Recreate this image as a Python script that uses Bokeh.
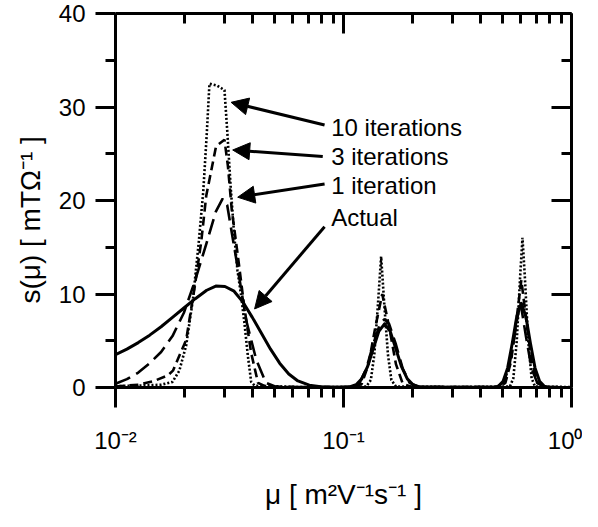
from bokeh.plotting import figure
from bokeh.models import (Range1d, FixedTicker, LogAxis, LinearAxis, Arrow, Title,
                          NormalHead, ColumnDataSource, CustomJSTickFormatter)
from bokeh.core.properties import value
from bokeh.embed import file_html
from bokeh.resources import INLINE

FONT = "Liberation Sans"

# ---------------- data (x stored as log10(mu)) ----------------
actual_log_mu = [-2.00, -1.95, -1.90, -1.85, -1.80, -1.75, -1.70, -1.65, -1.60, -1.56,
                 -1.52, -1.48, -1.44, -1.40, -1.36, -1.32, -1.28, -1.24, -1.20, -1.15,
                 -1.10, -1.05, -1.00, -0.97, -0.945, -0.92, -0.895, -0.87, -0.845, -0.82,
                 -0.795, -0.77, -0.745, -0.72, -0.695, -0.67, -0.55, -0.40, -0.34, -0.32,
                 -0.30, -0.28, -0.26, -0.24, -0.22, -0.20, -0.18, -0.16, -0.14, -0.12,
                 -0.10, 0.00]
actual_s = [3.5, 4.1, 4.8, 5.6, 6.5, 7.5, 8.5, 9.5, 10.4, 10.85,
            10.8, 10.3, 9.1, 7.5, 5.8, 4.1, 2.6, 1.45, 0.7, 0.25,
            0.08, 0.03, 0.03, 0.08, 0.3, 0.92, 2.2, 4.1, 6.0, 6.8,
            6.0, 4.1, 2.2, 0.92, 0.3, 0.08, 0.02, 0.02, 0.02, 0.15,
            0.66, 2.1, 4.7, 7.6, 9.0, 7.6, 4.7, 2.1, 0.66, 0.15,
            0.03, 0.0]

it10_log_mu = [-2.00, -1.90, -1.80, -1.75, -1.72, -1.69, -1.66, -1.635, -1.615, -1.60,
               -1.588, -1.555, -1.522, -1.51, -1.495, -1.48, -1.465, -1.45, -1.435, -1.42,
               -1.405, -1.39, -1.20, -1.00, -0.90, -0.88, -0.865, -0.85, -0.835, -0.82,
               -0.805, -0.79, -0.77, -0.50, -0.27, -0.255, -0.24, -0.225, -0.215, -0.205,
               -0.19, -0.175, -0.16, 0.00]
it10_s = [0.15, 0.2, 0.3, 0.6, 1.8, 4.5, 9.5, 15.5, 21.0, 27.0,
          32.5, 32.3, 31.8, 27.5, 21.5, 16.5, 12.5, 10.0, 7.0, 3.5,
          0.6, 0.2, 0.05, 0.05, 0.1, 0.8, 3.5, 8.5, 14.0, 8.5,
          3.5, 0.8, 0.1, 0.05, 0.1, 1.0, 5.0, 12.0, 16.0, 12.0,
          5.0, 1.0, 0.1, 0.05]

it3_log_mu = [-2.00, -1.90, -1.83, -1.77, -1.748, -1.69, -1.653, -1.624, -1.602, -1.559,
              -1.522, -1.507, -1.49, -1.464, -1.435, -1.405, -1.375, -1.34, -1.20, -0.95,
              -0.92, -0.89, -0.86, -0.83, -0.80, -0.77, -0.74, -0.70, -0.32, -0.29,
              -0.265, -0.24, -0.22, -0.20, -0.175, -0.15, -0.12, 0.00]
it3_s = [0.1, 0.3, 0.7, 1.3, 1.8, 5.1, 10.7, 15.6, 20.5, 25.8,
         26.5, 23.7, 19.0, 14.2, 8.6, 3.7, 0.5, 0.1, 0.03, 0.05,
         0.4, 2.5, 6.5, 10.0, 6.5, 2.5, 0.4, 0.05, 0.05, 0.5,
         2.8, 7.5, 11.5, 7.5, 2.8, 0.5, 0.05, 0.02]

it1_log_mu = [-2.00, -1.95, -1.90, -1.85, -1.80, -1.75, -1.70, -1.65, -1.60, -1.56,
              -1.53, -1.51, -1.493, -1.464, -1.427, -1.383, -1.34, -1.30, -1.20, -0.97,
              -0.93, -0.90, -0.87, -0.84, -0.82, -0.80, -0.77, -0.74, -0.71, -0.67,
              -0.33, -0.30, -0.275, -0.25, -0.225, -0.20, -0.175, -0.15, -0.12, 0.00]
it1_s = [0.4, 0.9, 1.6, 2.6, 3.8, 5.5, 8.0, 11.5, 15.5, 18.8,
         20.2, 19.5, 17.0, 12.8, 7.2, 3.0, 0.5, 0.1, 0.05, 0.05,
         0.5, 2.0, 4.6, 6.8, 7.3, 6.8, 4.6, 2.0, 0.5, 0.05,
         0.05, 0.5, 2.0, 5.5, 9.3, 5.5, 2.0, 0.5, 0.05, 0.02]

# annotations
note_texts = ["10 iterations", "3 iterations", "1 iteration", "Actual"]
note_log_mu = [-1.054, -1.054, -1.054, -1.054]
note_s = [27.8, 24.66, 21.6, 18.2]
arrow_start_log_mu = [-1.083, -1.091, -1.083, -1.083]
arrow_start_s = [28.07, 24.7, 21.76, 17.2]
arrow_end_log_mu = [-1.493, -1.486, -1.464, -1.39]
arrow_end_s = [30.5, 25.4, 20.35, 8.4]

x_major = [0.01, 0.1, 1.0]
x_minor = [0.02, 0.03, 0.04, 0.05, 0.06, 0.07, 0.08, 0.09,
           0.2, 0.3, 0.4, 0.5, 0.6, 0.7, 0.8, 0.9]
x_tick_labels = ["10\u207b\u00b2", "10\u207b\u00b9", "10\u2070"]
y_major = [0, 10, 20, 30, 40]
y_minor = [5, 15, 25, 35]

x_label = "\u03bc [ m\u00b2V\u207b\u00b9s\u207b\u00b9 ]"
y_label = "s(\u03bc) [ mT\u03a9\u207b\u00b9 ]"


def mu(logs):
    return [10 ** v for v in logs]


p = figure(frame_width=456, frame_height=374, x_axis_type="log",
           x_range=Range1d(0.01, 1), y_range=Range1d(0, 40),
           output_backend="svg", toolbar_location=None,
           min_border_left=115, min_border_right=11,
           min_border_top=13, min_border_bottom=124)
p.grid.visible = False
p.outline_line_color = None
p.background_fill_color = "white"
p.border_fill_color = "white"

LW = 3

def style_axis(ax, outside=True):
    ax.axis_line_width = LW
    ax.axis_line_color = "black"
    ax.major_tick_line_width = LW
    ax.minor_tick_line_width = LW
    ax.major_tick_line_color = "black"
    ax.minor_tick_line_color = "black"
    if outside:
        ax.major_tick_out, ax.major_tick_in = 20, 0
        ax.minor_tick_out, ax.minor_tick_in = 10, 0
    else:
        ax.major_tick_out, ax.major_tick_in = 0, 20
        ax.minor_tick_out, ax.minor_tick_in = 0, 10
    ax.major_label_text_font = FONT
    ax.major_label_text_font_size = "24px"
    ax.major_label_text_color = "black"
    ax.axis_label_text_font = FONT
    ax.axis_label_text_font_size = "28px"
    ax.axis_label_text_font_style = "normal"
    ax.axis_label_text_color = "black"

xb = p.xaxis[0]
xb.ticker = FixedTicker(ticks=x_major, minor_ticks=x_minor)
xb.formatter = CustomJSTickFormatter(
    args=dict(major_vals=x_major, major_texts=x_tick_labels),
    code="""
for (let i = 0; i < major_vals.length; i++) {
  if (Math.abs(Math.log10(major_vals[i]) - Math.log10(tick)) < 1e-6) { return major_texts[i]; }
}
return '';
""")
style_axis(xb)
xb.major_label_standoff = 19
xb.axis_label = x_label
xb.axis_label_standoff = 22

yl = p.yaxis[0]
yl.ticker = FixedTicker(ticks=y_major, minor_ticks=y_minor)
style_axis(yl)
yl.major_label_standoff = 10

# y title: side title anchored from the bottom, so it sits a little below the frame centre
p.add_layout(Title(text=y_label, align="left", offset=84, standoff=20,
                   text_font=FONT, text_font_size="28px", text_font_style="normal",
                   text_color="black"), "left")

xa = LogAxis(ticker=FixedTicker(ticks=x_major, minor_ticks=x_minor),
             formatter=CustomJSTickFormatter(code="return '';"))
style_axis(xa, outside=False)
xa.major_label_standoff = 0
p.add_layout(xa, "above")

yr = LinearAxis(ticker=FixedTicker(ticks=y_major, minor_ticks=y_minor),
                formatter=CustomJSTickFormatter(code="return '';"))
style_axis(yr, outside=False)
yr.major_label_standoff = 0
p.add_layout(yr, "right")

# curves
p.line(mu(actual_log_mu), actual_s, line_color="black", line_width=3, line_join="round")
p.line(mu(it1_log_mu), it1_s, line_color="black", line_width=2.6, line_dash="16 7")
p.line(mu(it3_log_mu), it3_s, line_color="black", line_width=2.6, line_dash="9 5")
p.line(mu(it10_log_mu), it10_s, line_color="black", line_width=2.6, line_dash="2 2")

# annotations
p.text(x=mu(note_log_mu), y=note_s, text=note_texts, text_font=value(FONT),
       text_font_size="24px", text_baseline="middle", text_align="left",
       text_color="black")

arr_src = ColumnDataSource(dict(xs=mu(arrow_start_log_mu), ys=arrow_start_s,
                                xe=mu(arrow_end_log_mu), ye=arrow_end_s))
p.add_layout(Arrow(source=arr_src, x_start="xs", y_start="ys", x_end="xe", y_end="ye",
                   line_width=3, line_color="black",
                   end=NormalHead(size=17, fill_color="black", line_color="black",
                                  line_width=1)))

open("out.html", "w").write(file_html(p, INLINE))
